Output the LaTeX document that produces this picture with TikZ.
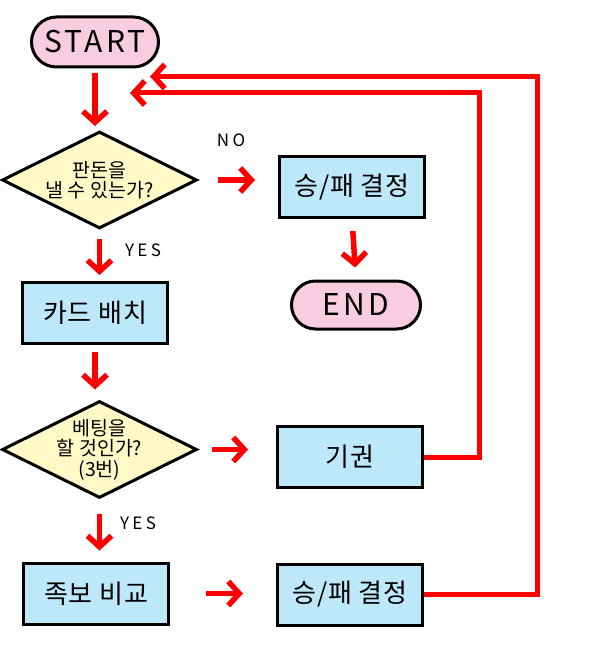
\documentclass[tikz,border=0pt]{standalone}
\usepackage{fontspec}
\setmainfont{Noto Sans CJK KR}
\usetikzlibrary{arrows.meta,shapes.geometric,shapes.misc}
\definecolor{pillpink}{HTML}{F8CDE0}
\definecolor{boxblue}{HTML}{BDE8F9}
\definecolor{diayellow}{HTML}{FFF9C8}
\definecolor{flowred}{HTML}{FF0000}
\tikzset{
  pill/.style={rounded rectangle, draw=black, line width=3, fill=pillpink, inner sep=0,
    minimum width=127, minimum height=50, font=\fontsize{30}{30}\selectfont\addfontfeature{LetterSpace=11}},
  procbox/.style={rectangle, draw=black, line width=3, fill=boxblue, inner sep=0,
    minimum width=145, minimum height=61, font=\fontsize{26}{26}\selectfont\addfontfeature{LetterSpace=3}},
  decision/.style={diamond, draw=black, line width=3, fill=diayellow, inner sep=0,
    minimum width=195, minimum height=97},
  dtext/.style={font=\fontsize{19.5}{20.5}\selectfont, align=center, inner sep=0},
  lbl/.style={font=\fontsize{17}{17}\selectfont\addfontfeature{LetterSpace=20}, inner sep=0},
  arr/.style={draw=flowred, line width=5.5,
    -{Straight Barb[length=11,width=24,line width=5.5]}},
  backline/.style={draw=flowred, line width=5,
    -{Straight Barb[length=11,width=24,line width=5.5]}}
}
\begin{document}
\begin{tikzpicture}[x=1pt,y=-1pt]
\useasboundingbox (0,0) rectangle (600,650);
\node[pill] (start) at (95,42) {START};
\node[decision, label={[dtext]center:판돈을\\낼 수 있는가?}] (d1) at (99.5,180) {};
\node[procbox] (win1) at (352,187) {승/패 결정};
\node[pill, minimum width=129, minimum height=48] (end) at (356,305) {END};
\node[procbox] (card) at (95,313) {카드 배치};
\node[decision, label={[dtext]center:베팅을\\할 것인가?\\(3번)}] (d2) at (99.5,449.5) {};
\node[procbox] (fold) at (350,457) {기권};
\node[procbox] (cmp) at (96,593.5) {족보 비교};
\node[procbox] (win2) at (350,594.5) {승/패 결정};
\node[lbl] (no) at (231,140) {NO};
\node[lbl] (yes1) at (143,250) {YES};
\node[lbl] (yes2) at (138,523) {YES};
\coordinate (back1) at (130,93);
\coordinate (back2) at (150,76.5);

\draw[arr, shorten <=5, shorten >=4] (start.south) -- (start.south |- d1.north);
\draw[arr, shorten <=19, shorten >=23] (d1.east) -- (win1.west |- d1.east);
\draw[arr, shorten <=12, shorten >=12] (win1.south) -- (end.north);
\draw[arr, shorten <=9, shorten >=6] (d1.south) -- (card.north -| d1.south);
\draw[arr, shorten <=7, shorten >=10] (card.south) -- (card.south |- d2.north);
\draw[arr, shorten <=13, shorten >=28] (d2.east) -- (fold.west |- d2.east);
\draw[arr, shorten <=14, shorten >=11] (d2.south) -- (cmp.north -| d2.south);
\draw[arr, shorten <=36, shorten >=33] (cmp.east) -- (win2.west |- cmp.east);
\draw[backline] (fold.east) -- ++(55,0) |- (back1);
\draw[backline] (win2.east) -- ++(113,0) |- (back2);
\end{tikzpicture}
\end{document}
